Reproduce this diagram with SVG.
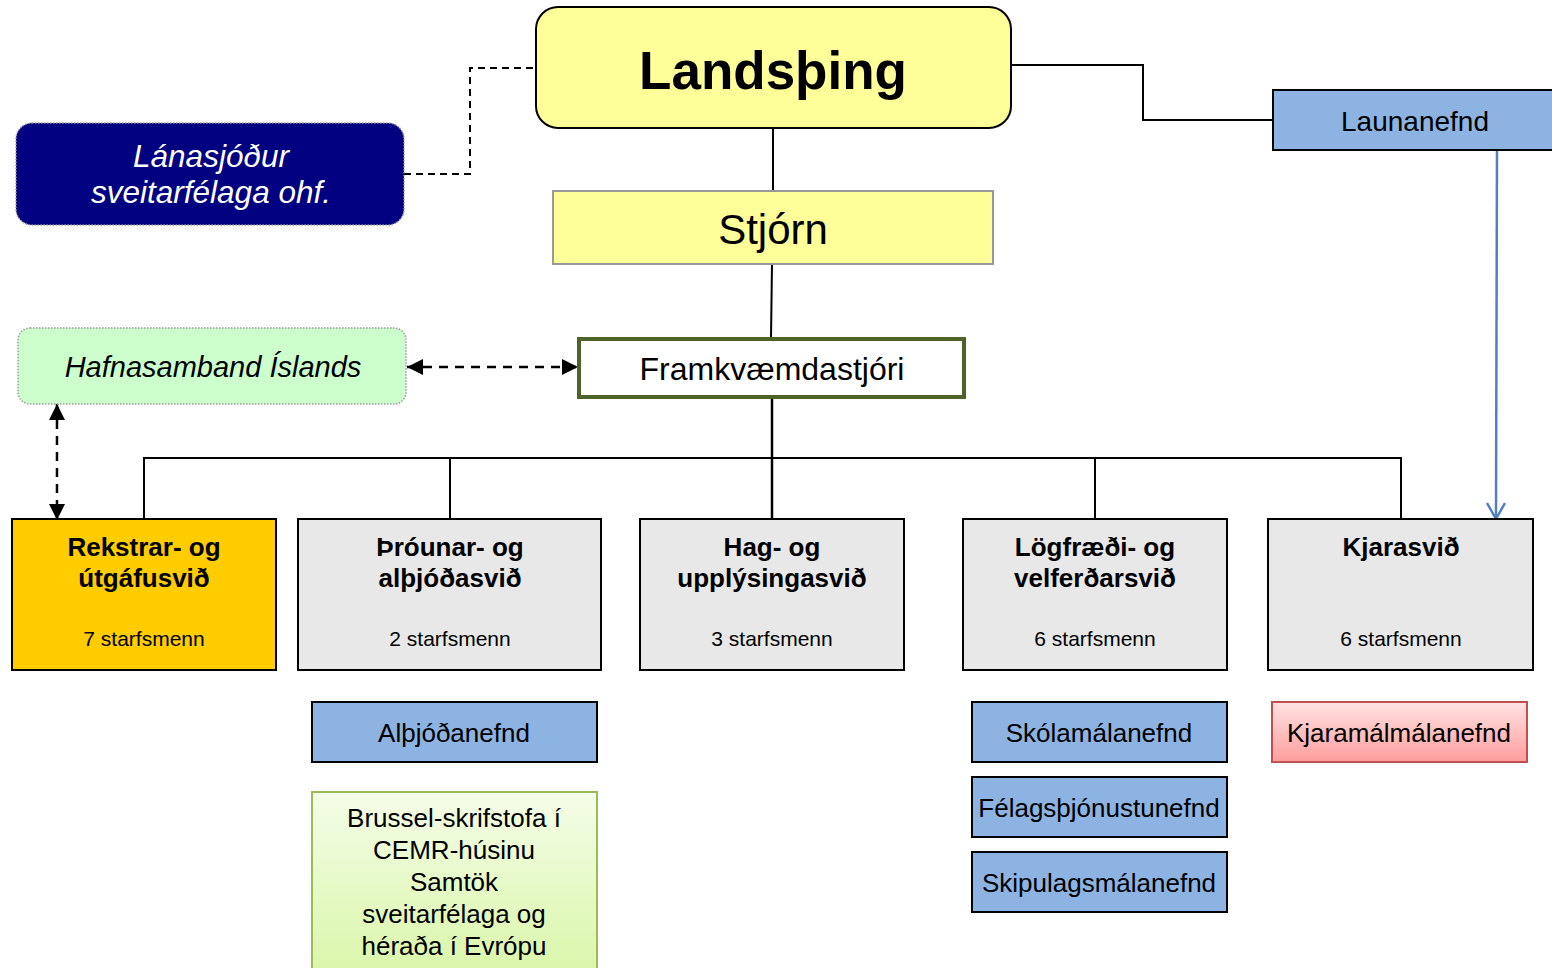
<svg xmlns="http://www.w3.org/2000/svg" width="1552" height="968" viewBox="0 0 1552 968">
<defs>
<style>
text{font-family:"Liberation Sans",Arial,sans-serif;fill:#000;text-anchor:middle}
.b{font-weight:bold}
.it{font-style:italic}
.ln{fill:none;stroke:#000;stroke-width:2}
.dash{fill:none;stroke:#000;stroke-width:2.5;stroke-dasharray:9 7}
.div{fill:#E8E8E8;stroke:#000;stroke-width:2}
.blue{fill:#8DB3E2;stroke:#000;stroke-width:2}
.t1{font-size:26px}
.t2{font-size:21px}
</style>
<marker id="ah2" viewBox="0 0 10 10" refX="10" refY="5" markerWidth="16" markerHeight="16" markerUnits="userSpaceOnUse" orient="auto-start-reverse">
<path d="M0,0 L10,5 L0,10 z" fill="#000"/>
</marker>
<linearGradient id="gGreen" x1="0" y1="0" x2="0" y2="1">
<stop offset="0" stop-color="#F4FDE8"/>
<stop offset="1" stop-color="#D8F6A6"/>
</linearGradient>
<linearGradient id="gRed" x1="0" y1="0" x2="0" y2="1">
<stop offset="0" stop-color="#FFE2E2"/>
<stop offset="1" stop-color="#FF9D9D"/>
</linearGradient>
</defs>
<rect width="1552" height="968" fill="#fff"/>

<g id="connectors">
<polyline class="ln" points="773,128 773,191"/>
<polyline class="ln" points="772,264 771,338"/>
<polyline class="ln" points="1011,65 1143,65 1143,120 1273,120"/>
<polyline points="404,174 470,174 470,68 536,68" fill="none" stroke="#000" stroke-width="2" stroke-dasharray="7 5"/>
<line x1="772" y1="398" x2="772" y2="519" stroke="#000" stroke-width="2.5"/>
<polyline class="ln" points="144,519 144,458 1401,458 1401,519"/>
<line class="ln" x1="450" y1="458" x2="450" y2="519"/>
<line class="ln" x1="1095" y1="458" x2="1095" y2="519"/>
<line class="dash" x1="407" y1="367" x2="578" y2="367" marker-start="url(#ah2)" marker-end="url(#ah2)"/>
<line class="dash" x1="57" y1="404" x2="57" y2="520" marker-start="url(#ah2)" marker-end="url(#ah2)"/>
<line x1="1497" y1="150" x2="1496" y2="519" stroke="#4F81BD" stroke-width="2.5"/>
<polyline points="1487,503 1496,519 1505,503" fill="none" stroke="#4F81BD" stroke-width="2.5"/>
</g>

<g id="landsthing">
<rect x="536" y="7" width="475" height="121" rx="22" fill="#FFFF99" stroke="#000" stroke-width="2"/>
<text x="773" y="89" class="b" font-size="53">Landsþing</text>
</g>

<g id="lanasjodur">
<rect x="16" y="123" width="388" height="102" rx="16" fill="#000080" stroke="#999" stroke-width="1.5" stroke-dasharray="1.5 1.5"/>
<text x="211" y="167" class="it" font-size="31.5" style="fill:#fff">Lánasjóður</text>
<text x="211" y="203" class="it" font-size="31.5" style="fill:#fff">sveitarfélaga ohf.</text>
</g>

<g id="launanefnd">
<rect x="1273" y="90" width="290" height="60" class="blue"/>
<text x="1415" y="131" font-size="28">Launanefnd</text>
</g>

<g id="stjorn">
<rect x="553" y="191" width="440" height="73" fill="#FFFF99" stroke="#999" stroke-width="2"/>
<text x="773" y="244" font-size="42">Stjórn</text>
</g>

<g id="hafnasamband">
<rect x="18" y="328" width="388" height="76" rx="12" fill="#CCFFCC" stroke="#999" stroke-width="1.5" stroke-dasharray="1.5 1.5"/>
<text x="213" y="377" class="it" font-size="29">Hafnasamband Íslands</text>
</g>

<g id="framkvaemdastjori">
<rect x="579" y="339" width="385" height="58" fill="#fff" stroke="#4F6228" stroke-width="4"/>
<text x="772" y="380" font-size="32">Framkvæmdastjóri</text>
</g>

<g id="rekstrar">
<rect x="12" y="519" width="264" height="151" fill="#FFCC00" stroke="#000" stroke-width="2"/>
<text x="144" y="556" class="b t1">Rekstrar- og</text>
<text x="144" y="587" class="b t1">útgáfusvið</text>
<text x="144" y="646" class="t2">7 starfsmenn</text>
</g>

<g id="throunar">
<rect x="298" y="519" width="303" height="151" class="div"/>
<text x="450" y="556" class="b t1">Þróunar- og</text>
<text x="450" y="587" class="b t1">alþjóðasvið</text>
<text x="450" y="646" class="t2">2 starfsmenn</text>
</g>

<g id="hag">
<rect x="640" y="519" width="264" height="151" class="div"/>
<text x="772" y="556" class="b t1">Hag- og</text>
<text x="772" y="587" class="b t1">upplýsingasvið</text>
<text x="772" y="646" class="t2">3 starfsmenn</text>
</g>

<g id="logfraedi">
<rect x="963" y="519" width="264" height="151" class="div"/>
<text x="1095" y="556" class="b t1">Lögfræði- og</text>
<text x="1095" y="587" class="b t1">velferðarsvið</text>
<text x="1095" y="646" class="t2">6 starfsmenn</text>
</g>

<g id="kjarasvid">
<rect x="1268" y="519" width="265" height="151" class="div"/>
<text x="1401" y="556" class="b t1">Kjarasvið</text>
<text x="1401" y="646" class="t2">6 starfsmenn</text>
</g>

<g id="althjodanefnd">
<rect x="312" y="702" width="285" height="60" class="blue"/>
<text x="454" y="742" class="t1">Alþjóðanefnd</text>
</g>

<g id="brussel">
<rect x="312" y="792" width="285" height="190" fill="url(#gGreen)" stroke="#9BBB59" stroke-width="2"/>
<text x="454" y="827" class="t1">Brussel-skrifstofa í</text>
<text x="454" y="859" class="t1">CEMR-húsinu</text>
<text x="454" y="891" class="t1">Samtök</text>
<text x="454" y="923" class="t1">sveitarfélaga og</text>
<text x="454" y="955" class="t1">héraða í Evrópu</text>
</g>

<g id="skolamalanefnd">
<rect x="972" y="702" width="255" height="60" class="blue"/>
<text x="1099" y="742" class="t1">Skólamálanefnd</text>
</g>

<g id="felagsthjonustunefnd">
<rect x="972" y="777" width="255" height="60" class="blue"/>
<text x="1099" y="817" class="t1">Félagsþjónustunefnd</text>
</g>

<g id="skipulagsmalanefnd">
<rect x="972" y="852" width="255" height="60" class="blue"/>
<text x="1099" y="892" class="t1">Skipulagsmálanefnd</text>
</g>

<g id="kjaramalmalanefnd">
<rect x="1272" y="702" width="255" height="60" fill="url(#gRed)" stroke="#C0504D" stroke-width="2"/>
<text x="1399" y="742" class="t1">Kjaramálmálanefnd</text>
</g>
</svg>
